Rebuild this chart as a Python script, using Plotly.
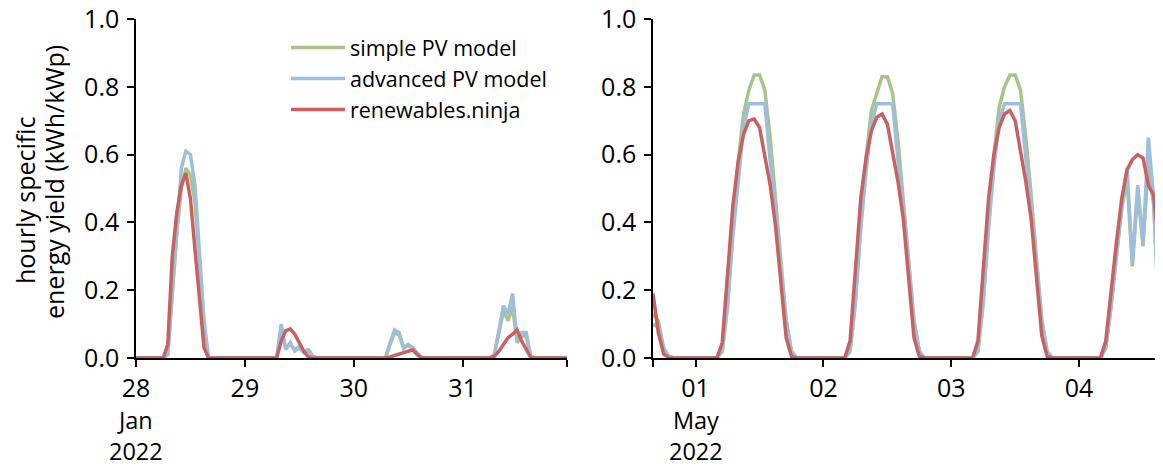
import pandas as pd
import plotly.graph_objects as go

# ---------------- data ----------------
# Left panel: hourly, 2022-01-28 00:00 .. 2022-01-31 23:00
jan_start = "2022-01-28 00:00"
jan_simple = [
    0, 0, 0, 0, 0, 0, 0, 0.01, 0.18, 0.37, 0.50, 0.56, 0.54, 0.46, 0.28, 0.08, 0, 0, 0, 0, 0, 0, 0, 0,
    0, 0, 0, 0, 0, 0, 0, 0, 0.08, 0.03, 0.04, 0.025, 0.035, 0.02, 0.025, 0.005, 0, 0, 0, 0, 0, 0, 0, 0,
    0, 0, 0, 0, 0, 0, 0, 0, 0.04, 0.075, 0.068, 0.028, 0.038, 0.028, 0.013, 0, 0, 0, 0, 0, 0, 0, 0, 0,
    0, 0, 0, 0, 0, 0, 0, 0.01, 0.07, 0.14, 0.11, 0.15, 0.045, 0.065, 0.065, 0, 0, 0, 0, 0, 0, 0, 0, 0,
]
jan_advanced = [
    0, 0, 0, 0, 0, 0, 0, 0.01, 0.20, 0.40, 0.56, 0.61, 0.60, 0.51, 0.32, 0.11, 0, 0, 0, 0, 0, 0, 0, 0,
    0, 0, 0, 0, 0, 0, 0, 0, 0.10, 0.025, 0.045, 0.02, 0.03, 0.015, 0.02, 0.005, 0, 0, 0, 0, 0, 0, 0, 0,
    0, 0, 0, 0, 0, 0, 0, 0, 0.045, 0.083, 0.075, 0.03, 0.04, 0.03, 0.015, 0, 0, 0, 0, 0, 0, 0, 0, 0,
    0, 0, 0, 0, 0, 0, 0, 0.01, 0.08, 0.155, 0.13, 0.19, 0.05, 0.075, 0.075, 0.005, 0, 0, 0, 0, 0, 0, 0, 0,
]
jan_ninja = [
    0, 0, 0, 0, 0, 0, 0, 0.04, 0.30, 0.43, 0.51, 0.545, 0.47, 0.32, 0.16, 0.03, 0, 0, 0, 0, 0, 0, 0, 0,
    0, 0, 0, 0, 0, 0, 0, 0, 0.05, 0.08, 0.086, 0.07, 0.045, 0.02, 0.003, 0, 0, 0, 0, 0, 0, 0, 0, 0,
    0, 0, 0, 0, 0, 0, 0, 0, 0.003, 0.008, 0.012, 0.016, 0.02, 0.024, 0.01, 0, 0, 0, 0, 0, 0, 0, 0, 0,
    0, 0, 0, 0, 0, 0, 0, 0.005, 0.02, 0.04, 0.06, 0.07, 0.083, 0.05, 0.025, 0.002, 0, 0, 0, 0, 0, 0, 0, 0,
]

# Right panel: hourly, 2022-04-30 16:00 .. 2022-05-04 15:00
may_start = "2022-04-30 16:00"
may_simple = [
    0.13, 0.11, 0.03, 0.005, 0, 0, 0, 0,
    0, 0, 0, 0, 0, 0.02, 0.16, 0.38, 0.58, 0.72, 0.79, 0.835, 0.835, 0.79, 0.65, 0.47, 0.28, 0.11, 0.02, 0, 0, 0, 0, 0,
    0, 0, 0, 0, 0, 0.02, 0.17, 0.40, 0.59, 0.73, 0.78, 0.83, 0.83, 0.78, 0.64, 0.47, 0.29, 0.11, 0.02, 0, 0, 0, 0, 0,
    0, 0, 0, 0, 0, 0.02, 0.17, 0.40, 0.60, 0.74, 0.80, 0.835, 0.835, 0.79, 0.65, 0.48, 0.29, 0.11, 0.02, 0, 0, 0, 0, 0,
    0, 0, 0, 0, 0, 0.03, 0.15, 0.30, 0.44, 0.53, 0.27, 0.49, 0.33, 0.57, 0.45, 0.12,
]
may_advanced = [
    0.10, 0.09, 0.025, 0.005, 0, 0, 0, 0,
    0, 0, 0, 0, 0, 0.02, 0.15, 0.36, 0.53, 0.68, 0.75, 0.75, 0.75, 0.75, 0.58, 0.44, 0.27, 0.11, 0.02, 0, 0, 0, 0, 0,
    0, 0, 0, 0, 0, 0.02, 0.16, 0.38, 0.55, 0.69, 0.75, 0.75, 0.75, 0.75, 0.58, 0.45, 0.28, 0.11, 0.02, 0, 0, 0, 0, 0,
    0, 0, 0, 0, 0, 0.02, 0.16, 0.38, 0.56, 0.70, 0.75, 0.75, 0.75, 0.75, 0.59, 0.45, 0.28, 0.11, 0.02, 0, 0, 0, 0, 0,
    0, 0, 0, 0, 0, 0.03, 0.15, 0.30, 0.45, 0.56, 0.28, 0.51, 0.34, 0.65, 0.47, 0.12,
]
may_ninja = [
    0.19, 0.075, 0.012, 0, 0, 0, 0, 0,
    0, 0, 0, 0, 0, 0.045, 0.25, 0.45, 0.58, 0.66, 0.70, 0.705, 0.68, 0.60, 0.51, 0.39, 0.23, 0.06, 0.005, 0, 0, 0, 0, 0,
    0, 0, 0, 0, 0, 0.05, 0.27, 0.47, 0.59, 0.67, 0.71, 0.72, 0.69, 0.60, 0.52, 0.41, 0.245, 0.06, 0.005, 0, 0, 0, 0, 0,
    0, 0, 0, 0, 0, 0.05, 0.27, 0.47, 0.60, 0.68, 0.72, 0.73, 0.70, 0.61, 0.52, 0.41, 0.25, 0.065, 0.005, 0, 0, 0, 0, 0,
    0, 0, 0, 0, 0, 0.05, 0.20, 0.34, 0.47, 0.555, 0.585, 0.60, 0.59, 0.51, 0.48, 0.33,
]

series_names = ["simple PV model", "advanced PV model", "renewables.ninja"]
series_colors = ["#A8C48A", "#9EBEDB", "#C86262"]

jan_tickvals = ["2022-01-28", "2022-01-29", "2022-01-30", "2022-01-31", "2022-01-31 23:00"]
jan_ticktext = ["28", "29", "30", "31", ""]
may_tickvals = ["2022-04-30 16:00", "2022-05-01", "2022-05-02", "2022-05-03", "2022-05-04", "2022-05-04 15:00"]
may_ticktext = ["", "01", "02", "03", "04", ""]
jan_sub_label = "Jan<br>2022"      # below the first tick of the left panel
may_sub_label = "May<br>2022"      # below the first day tick of the right panel
y_tickvals = [0, 0.2, 0.4, 0.6, 0.8, 1.0]
y_ticktext = ["0.0", "0.2", "0.4", "0.6", "0.8", "1.0"]
y_title_lines = ["hourly specific", "energy yield (kWh/kWp)"]

# ---------------- figure ----------------
jan_x = pd.date_range(jan_start, periods=len(jan_ninja), freq="h")
may_x = pd.date_range(may_start, periods=len(may_ninja), freq="h")

# the page puts the figure 8px from the top-left corner; work in page pixels
OFF = 8
W, H = 1163 - OFF, 466 - OFF
FONT = "Open Sans"
ML, MR, MT = 136 - OFF, 4, 19 - OFF
MB = H - (358 - OFF)
PW = W - ML - MR
PH = H - MT - MB


def px(xp):   # page x -> paper fraction
    return (xp - OFF - ML) / PW


def py(yp):   # page y -> paper fraction
    return (H - MB - (yp - OFF)) / PH


fig = go.Figure()
for name, col, ys in zip(series_names, series_colors, [jan_simple, jan_advanced, jan_ninja]):
    fig.add_trace(go.Scatter(x=jan_x, y=ys, mode="lines", name=name,
                             line=dict(color=col, width=3.5), xaxis="x", yaxis="y"))
for name, col, ys in zip(series_names, series_colors, [may_simple, may_advanced, may_ninja]):
    fig.add_trace(go.Scatter(x=may_x, y=ys, mode="lines", name=name, showlegend=False,
                             line=dict(color=col, width=3.5), xaxis="x2", yaxis="y2"))

axis_common = dict(showline=True, linecolor="black", linewidth=1.5, ticks="outside",
                   ticklen=7, tickwidth=1.5, tickcolor="black", showgrid=False,
                   zeroline=False, automargin=False, ticklabeloverflow="allow",
                   tickfont=dict(family=FONT, size=25, color="black"))

tfont = dict(family=FONT, size=25, color="black")
annotations = [
    dict(text=y_title_lines[0], xref="paper", yref="paper", x=px(25), y=py(200),
         xanchor="center", yanchor="middle", textangle=-90, showarrow=False, font=tfont),
    dict(text=y_title_lines[1], xref="paper", yref="paper", x=px(54), y=py(182),
         xanchor="center", yanchor="middle", textangle=-90, showarrow=False, font=tfont),
]
for xref, xval, lab in [("x", jan_tickvals[0], jan_sub_label),
                        ("x2", may_tickvals[1], may_sub_label)]:
    annotations.append(dict(text=lab, xref=xref, yref="paper", x=xval, y=py(435),
                            xanchor="center", yanchor="middle", showarrow=False,
                            borderpad=0, font=dict(family=FONT, size=23.5, color="black")))

fig.update_layout(
    width=W, height=H,
    margin=dict(l=ML, r=MR, t=MT, b=MB, autoexpand=False),
    paper_bgcolor="white", plot_bgcolor="white",
    font=dict(family=FONT, size=25, color="black"),
    xaxis=dict(domain=[0, px(567)], anchor="y", type="date",
               range=[jan_x[0], jan_x[-1]], tickmode="array",
               tickvals=jan_tickvals, ticktext=jan_ticktext, **axis_common),
    xaxis2=dict(domain=[px(653), 1.0], anchor="y2", type="date",
                range=[may_x[0], may_x[-1]], tickmode="array",
                tickvals=may_tickvals, ticktext=may_ticktext, **axis_common),
    yaxis=dict(domain=[0, 1], anchor="x", range=[0, 1], tickmode="array",
               tickvals=y_tickvals, ticktext=y_ticktext, ticklabelstandoff=3, **axis_common),
    yaxis2=dict(domain=[0, 1], anchor="x2", range=[0, 1], tickmode="array",
                tickvals=y_tickvals, ticktext=y_ticktext, ticklabelstandoff=3, **axis_common),
    legend=dict(xref="container", yref="container",
                x=(286 - OFF) / W, y=1 - (27 - OFF) / H,
                xanchor="left", yanchor="top",
                bgcolor="rgba(0,0,0,0)", font=dict(family=FONT, size=21.5, color="black"),
                itemwidth=54, tracegroupgap=0),
    showlegend=True,
    annotations=annotations,
)

fig.write_html("out.html")
